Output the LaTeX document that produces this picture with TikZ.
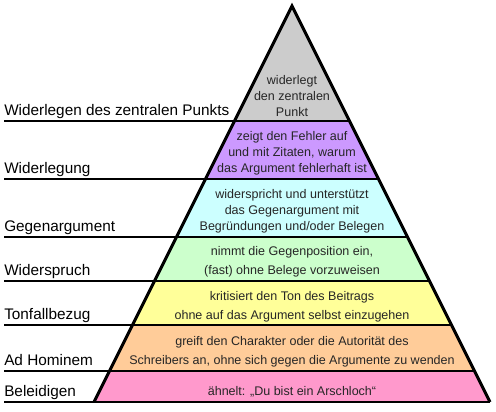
\documentclass[tikz,border=0pt]{standalone}
\usepackage{fontspec}
\setmainfont{Liberation Sans}
\usetikzlibrary{positioning,calc}
\definecolor{grau}{HTML}{CCCCCC}
\definecolor{lila}{HTML}{CC99FF}
\definecolor{hellcyan}{HTML}{CCFFFF}
\definecolor{gruen}{HTML}{CCFFCC}
\definecolor{gelb}{HTML}{FFFF99}
\definecolor{orangeton}{HTML}{FFCC99}
\definecolor{rosa}{HTML}{FF99CC}
\tikzset{
  rand/.style={line width=2.2pt,line join=miter},
  linie/.style={line width=2pt},
  etikett/.style={anchor=base west,inner sep=0pt,font=\fontsize{11.5}{13}\selectfont},
  inhalt/.style={align=center,inner sep=0pt,text=black!85,font=\fontsize{9.4}{12}\selectfont},
  inhaltw/.style={inhalt,font=\fontsize{9.4}{14.4}\selectfont},
}

\begin{document}
\begin{tikzpicture}[x=0.75pt,y=-0.75pt]
  \useasboundingbox (0,0) rectangle (496,411);
  % Stufen
  \fill[grau] (292,6) -- (349.5,121) -- (234.5,121) -- cycle;
  \foreach \ob/\un/\fb in {121/179/lila,179/237/hellcyan,237/281/gruen,281/325/gelb,325/371/orangeton,371/402/rosa}
    \fill[\fb] ({292-(\ob-6)/2},\ob) -- ({292+(\ob-6)/2},\ob) -- ({292+(\un-6)/2},\un) -- ({292-(\un-6)/2},\un) -- cycle;
  % Trennlinien und Umriss
  \foreach \y in {121,179,237,281,325,371,402}
    \draw[linie] (4,\y) -- ({292+(\y-6)/2},\y);
  \draw[rand] (94,402) -- (292,6) -- (490,402);
  % Texte in der Pyramide
  \node[inhalt] (punkt) at (292,96) {widerlegt\\den zentralen\\Punkt};
  \node[inhalt] (fehler) at (292,153) {zeigt den Fehler auf\\und mit Zitaten, warum\\das Argument fehlerhaft ist};
  \node[inhalt] (gegen) at (292,211) {widerspricht und unterstützt\\das Gegenargument mit\\Begründungen und/oder Belegen};
  \node[inhaltw] (position) at (292,262) {nimmt die Gegenposition ein,\\(fast) ohne Belege vorzuweisen};
  \node[inhaltw] (ton) at (292,307) {kritisiert den Ton des Beitrags\\ohne auf das Argument selbst einzugehen};
  \node[inhaltw] (charakter) at (292,351.5) {greift den Charakter oder die Autorität des\\Schreibers an, ohne sich gegen die Argumente zu wenden};
  \node[inhalt] (arschloch) at (292,391.5) {ähnelt: „Du bist ein Arschloch“};
  % Stufennamen
  \node[etikett] (widerlegen) at (4,115) {Widerlegen des zentralen Punkts};
  \node[etikett] (widerlegung) at (4,173) {Widerlegung};
  \node[etikett] (gegenarg) at (4,231) {Gegenargument};
  \node[etikett] (widerspruch) at (4,275) {Widerspruch};
  \node[etikett] (tonfall) at (4,319) {Tonfallbezug};
  \node[etikett] (hominem) at (4,365) {Ad Hominem};
  \node[etikett] (beleidigen) at (4,396.5) {Beleidigen};
\end{tikzpicture}
\end{document}
